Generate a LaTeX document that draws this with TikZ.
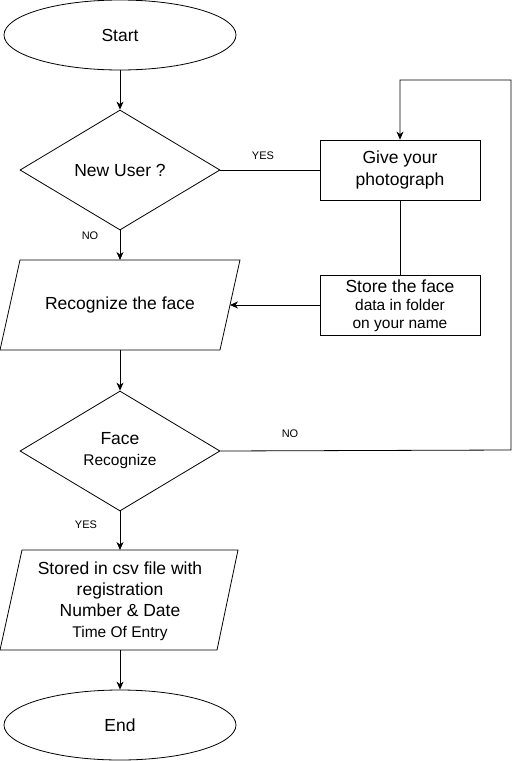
\documentclass[tikz,border=0pt]{standalone}
\usepackage{fontspec}
\setmainfont{Liberation Sans}
\usetikzlibrary{shapes.geometric,arrows.meta}

\tikzset{
	every node/.style={font=\fontsize{17.5}{22}\selectfont, align=center},
	term/.style={draw, ellipse, minimum width=232pt, minimum height=70pt, inner sep=0pt},
	decision/.style={draw, diamond, minimum width=200pt, minimum height=120pt, inner sep=0pt},
	box/.style={draw, rectangle, minimum width=160pt, minimum height=60pt, inner sep=0pt},
	lbl/.style={font=\fontsize{11}{13}\selectfont},
	flow/.style={-{Stealth[length=8pt,width=7pt,inset=2.5pt]}},
}
\newcommand{\smalltxt}{\fontsize{15.5}{19}\selectfont}

\begin{document}
\begin{tikzpicture}[x=1pt,y=-1pt,line width=0.8pt]
				
				\useasboundingbox (0,0) rectangle (521,761);
				\node[term] (start) at (120,35) {Start};
				\node[decision] (newuser) at (120,170) {New User ?};
				\node[box] (give) at (400,170) {Give your\\photograph};
				\node[box] (store) at (400,305) {};
				\node[inner sep=0pt] (storetxt) at (400,306) {Store the face\\[-4pt]{\smalltxt data in folder}\\[-4pt]{\smalltxt on your name}};
				% parallelogram: recognize
				\draw (20,260) -- (240,260) -- (220,350) -- (0,350) -- cycle;
				\node (recog) at (120,305) {Recognize the face};
				\coordinate (recogtop) at (120,260);
				\coordinate (recogright) at (230,305);
				\coordinate (recogbot) at (120,350);
				\node[decision] (face) at (120,451) {Face\\[-1pt]{\smalltxt Recognize}};
				% parallelogram: csv
				\draw (22,550) -- (238,550) -- (217,650) -- (0,650) -- cycle;
				\node (csv) at (120,601) {Stored in csv file with\\[-1pt]registration\\[-1pt]Number \& Date\\[-1pt]{\smalltxt Time Of Entry}};
				\coordinate (csvtop) at (120,550);
				\coordinate (csvbot) at (120,650);
				\node[term] (end) at (120,725) {End};
				\coordinate (loopA) at (511,450);
				\coordinate (loopB) at (511,80);
				\coordinate (loopC) at (400,80);
				
				\draw[flow] (start) -- (newuser);
				\draw (newuser) -- (give);
				\draw (give) -- (store);
				\draw[flow] (store) -- (recogright);
				\draw[flow] (newuser) -- (recogtop);
				\draw[flow] (recogbot) -- (face);
				\draw[flow] (face) -- (csvtop);
				\draw[flow] (csvbot) -- (end);
				\draw[flow] (face.east) -- (loopA) -- (loopB) -- (loopC) -- (give.north);
				
				\node[lbl] (yes1) at (263,156) {YES};
				\node[lbl] (no1) at (90,236) {NO};
				\node[lbl] (no2) at (290,434) {NO};
				\node[lbl] (yes2) at (86,525) {YES};
			\end{tikzpicture}
\end{document}
